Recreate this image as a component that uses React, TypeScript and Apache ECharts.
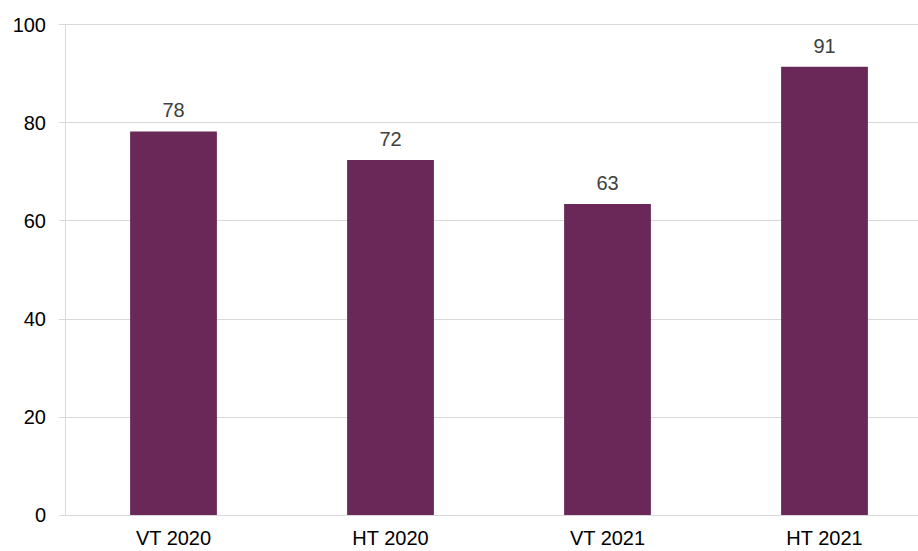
import React, { useEffect, useRef } from "react";
import * as echarts from "echarts";

const categories = ["VT 2020", "HT 2020", "VT 2021", "HT 2021"];
const values = [78.2, 72.4, 63.4, 91.4];
const yTicks = [0, 20, 40, 60, 80, 100];

export default function App() {
  const ref = useRef<HTMLDivElement>(null);
  useEffect(() => {
    if (!ref.current) return;
    const chart = echarts.init(ref.current, null, { renderer: "svg" });
    chart.setOption({
      animation: false,
      backgroundColor: "#ffffff",
      grid: { left: 65, right: 0, top: 24.5, bottom: 36 },
      xAxis: {
        type: "category",
        data: categories,
        axisLine: { show: true, lineStyle: { color: "#d9d9d9", width: 1 } },
        axisTick: { show: false },
        axisLabel: {
          color: "#000000",
          fontSize: 20,
          fontFamily: "Liberation Sans, Arial, sans-serif",
          margin: 13,
        },
      },
      yAxis: {
        type: "value",
        min: yTicks[0],
        max: yTicks[yTicks.length - 1],
        interval: 20,
        axisLine: { show: true, lineStyle: { color: "#d9d9d9", width: 1 } },
        axisTick: { show: true, length: 6, lineStyle: { color: "#d9d9d9" } },
        splitLine: { show: true, lineStyle: { color: "#d9d9d9", width: 1 } },
        axisLabel: {
          color: "#000000",
          fontSize: 20,
          fontFamily: "Liberation Sans, Arial, sans-serif",
          margin: 19,
        },
      },
      series: [
        {
          type: "bar",
          data: values,
          barWidth: "40%",
          itemStyle: { color: "#6a2859" },
          label: {
            show: true,
            position: "top",
            distance: 11,
            color: "#404040",
            fontSize: 20,
            fontFamily: "Liberation Sans, Arial, sans-serif",
            formatter: (p: any) => String(Math.round(p.value)),
          },
        },
      ],
    });
    return () => chart.dispose();
  }, []);
  return (
    <div style={{ position: "absolute", left: 0, top: 0, width: 918, height: 551, overflow: "hidden" }}>
      <div ref={ref} style={{ width: 933, height: 551 }} />
    </div>
  );
}
